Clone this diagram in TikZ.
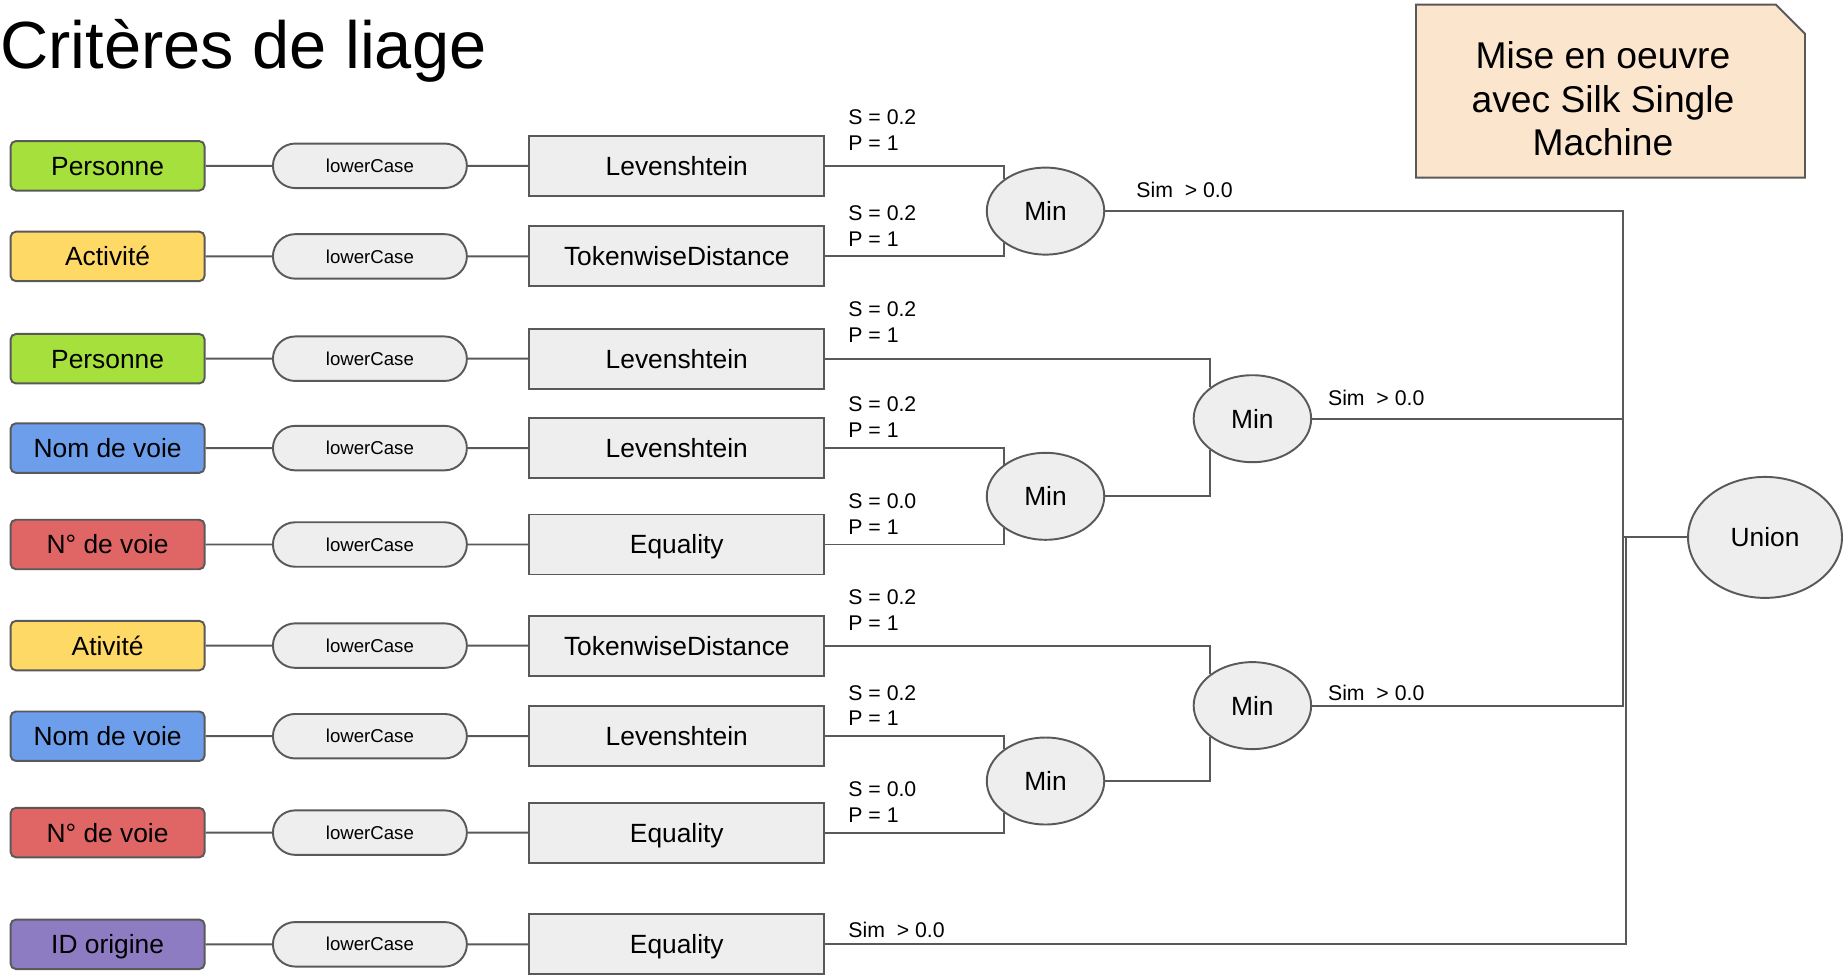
\documentclass[tikz,border=0pt]{standalone}
\usepackage{fontspec}
\setmainfont{Liberation Sans}
\usepackage{tikz}
\usetikzlibrary{positioning,shapes.geometric,shapes.misc}

\definecolor{linegray}{HTML}{595959}
\definecolor{boxgray}{HTML}{EEEEEE}
\definecolor{attgreen}{HTML}{A6E03C}
\definecolor{attyellow}{HTML}{FFD966}
\definecolor{attblue}{HTML}{6D9EEB}
\definecolor{attred}{HTML}{E06666}
\definecolor{attpurple}{HTML}{8E7CC3}
\definecolor{notepeach}{HTML}{FCE5CD}

\tikzset{
	attbox/.style={draw=linegray, line width=1.1pt, rounded corners=3pt, minimum width=3.88cm, minimum height=0.99cm, inner sep=0pt, text height=10.7pt, text depth=0pt, font=\fontsize{15}{18}\selectfont},
	lowbox/.style={draw=linegray, fill=boxgray, line width=1.1pt, rounded rectangle, minimum width=3.88cm, minimum height=0.89cm, inner sep=0pt, text height=7.6pt, text depth=0pt, font=\fontsize{10.6}{12}\selectfont},
	cmpbox/.style={draw=linegray, fill=boxgray, line width=1.1pt, minimum width=5.9cm, minimum height=1.2cm, inner sep=0pt, text height=10.7pt, text depth=0pt, font=\fontsize{15}{18}\selectfont},
	aggr/.style={draw=linegray, fill=boxgray, line width=1.1pt, ellipse, minimum width=2.35cm, minimum height=1.74cm, inner sep=0pt, text height=10.7pt, text depth=0pt, font=\fontsize{15}{18}\selectfont},
	wire/.style={draw=linegray, line width=1.1pt},
	param/.style={anchor=south west, inner sep=0pt, align=left, font=\fontsize{12.1}{14.7}\selectfont},
}

\begin{document}
\begin{tikzpicture}[x=0.02cm,y=-0.02cm]
		\useasboundingbox (0,0) rectangle (1844,974);
		
		\node[anchor=base west, inner sep=0pt, font=\fontsize{38}{44}\selectfont] (title) at (0,68) {Critères de liage};
		
		% note
		\draw[wire, fill=notepeach] (1416,4.7) -- (1776,4.7) -- (1805,33.7) -- (1805,177.6) -- (1416,177.6) -- cycle;
		\node[align=center, font=\fontsize{21.2}{24.75}\selectfont] (note) at (1603,98.8) {Mise en oeuvre\\avec Silk Single\\Machine};
		
		% attributes
		\node[attbox, fill=attgreen] (att1) at (107.6,165.8) {Personne};
		\node[attbox, fill=attyellow] (att2) at (107.6,256.4) {Activité};
		\node[attbox, fill=attgreen] (att3) at (107.6,358.7) {Personne};
		\node[attbox, fill=attblue] (att4) at (107.6,448.1) {Nom de voie};
		\node[attbox, fill=attred] (att5) at (107.6,544.5) {N° de voie};
		\node[attbox, fill=attyellow] (att6) at (107.6,645.6) {Ativité};
		\node[attbox, fill=attblue] (att7) at (107.6,736.2) {Nom de voie};
		\node[attbox, fill=attred] (att8) at (107.6,832.6) {N° de voie};
		\node[attbox, fill=attpurple] (att9) at (107.6,944.3) {ID origine};
		
		% transformations
		\node[lowbox] (low1) at (369.9,165.8) {lowerCase};
		\node[lowbox] (low2) at (369.9,256.4) {lowerCase};
		\node[lowbox] (low3) at (369.9,358.7) {lowerCase};
		\node[lowbox] (low4) at (369.9,448.1) {lowerCase};
		\node[lowbox] (low5) at (369.9,544.5) {lowerCase};
		\node[lowbox] (low6) at (369.9,645.6) {lowerCase};
		\node[lowbox] (low7) at (369.9,736.2) {lowerCase};
		\node[lowbox] (low8) at (369.9,832.6) {lowerCase};
		\node[lowbox] (low9) at (369.9,944.3) {lowerCase};
		
		% comparisons
		\node[cmpbox] (cmp1) at (676.8,165.8) {Levenshtein};
		\node[cmpbox] (cmp2) at (676.8,256.4) {TokenwiseDistance};
		\node[cmpbox] (cmp3) at (676.8,358.7) {Levenshtein};
		\node[cmpbox] (cmp4) at (676.8,448.1) {Levenshtein};
		\node[cmpbox] (cmp5) at (676.8,544.5) {Equality};
		\node[cmpbox] (cmp6) at (676.8,645.6) {TokenwiseDistance};
		\node[cmpbox] (cmp7) at (676.8,736.2) {Levenshtein};
		\node[cmpbox] (cmp8) at (676.8,832.6) {Equality};
		\node[cmpbox] (cmp9) at (676.8,944.3) {Equality};
		
		% aggregations
		\node[aggr] (min1) at (1045.5,211.1) {Min};
		\node[aggr] (min2) at (1252.4,418.7) {Min};
		\node[aggr] (min3) at (1045.5,496.3) {Min};
		\node[aggr] (min4) at (1252.4,705.6) {Min};
		\node[aggr] (min5) at (1045.5,781) {Min};
		\node[aggr, minimum width=3.08cm, minimum height=2.42cm] (union) at (1765,537.4) {Union};
		
		\coordinate (trunk) at (1623,537.4);
		\coordinate (trunkb) at (1626,537.4);
		
		% rows
		\draw[wire] (att1) -- (low1) -- (cmp1);
		\draw[wire] (att2) -- (low2) -- (cmp2);
		\draw[wire] (att3) -- (low3) -- (cmp3);
		\draw[wire] (att4) -- (low4) -- (cmp4);
		\draw[wire] (att5) -- (low5) -- (cmp5);
		\draw[wire] (att6) -- (low6) -- (cmp6);
		\draw[wire] (att7) -- (low7) -- (cmp7);
		\draw[wire] (att8) -- (low8) -- (cmp8);
		\draw[wire] (att9) -- (low9) -- (cmp9);
		
		% into the aggregations
		\draw[wire] (cmp1.east) -| (min1.143);
		\draw[wire] (cmp2.east) -| (min1.217);
		\draw[wire] (cmp3.east) -| (min2.143);
		\draw[wire] (cmp4.east) -| (min3.143);
		\draw[wire] (cmp5.east) -| (min3.217);
		\draw[wire] (min3.east) -| (min2.217);
		\draw[wire] (cmp6.east) -| (min4.143);
		\draw[wire] (cmp7.east) -| (min5.143);
		\draw[wire] (cmp8.east) -| (min5.217);
		\draw[wire] (min5.east) -| (min4.217);
		
		% into the union
		\draw[wire] (min1) -| (trunk) -- (union);
		\draw[wire] (min2) -| (trunk);
		\draw[wire] (min4) -| (trunk);
		\draw[wire] (cmp9.east) -| (trunkb) -- (union);
		
		% thresholds
		\node[param] (th1) at (848,151.1) {S = 0.2\\P = 1};
		\node[param] (th2) at (848,246.4) {S = 0.2\\P = 1};
		\node[param] (th3) at (848,342.8) {S = 0.2\\P = 1};
		\node[param] (th4) at (848,438.1) {S = 0.2\\P = 1};
		\node[param] (th5) at (848,534.5) {S = 0.0\\P = 1};
		\node[param] (th6) at (848,630.9) {S = 0.2\\P = 1};
		\node[param] (th7) at (848,726.2) {S = 0.2\\P = 1};
		\node[param] (th8) at (848,822.6) {S = 0.0\\P = 1};
		\node[param] (sim1) at (1136,198.1) {Sim~ > 0.0};
		\node[param] (sim2) at (1327.7,406.3) {Sim~ > 0.0};
		\node[param] (sim4) at (1327.7,701.4) {Sim~ > 0.0};
		\node[param] (sim9) at (848,937.8) {Sim~ > 0.0};
	\end{tikzpicture}
\end{document}
